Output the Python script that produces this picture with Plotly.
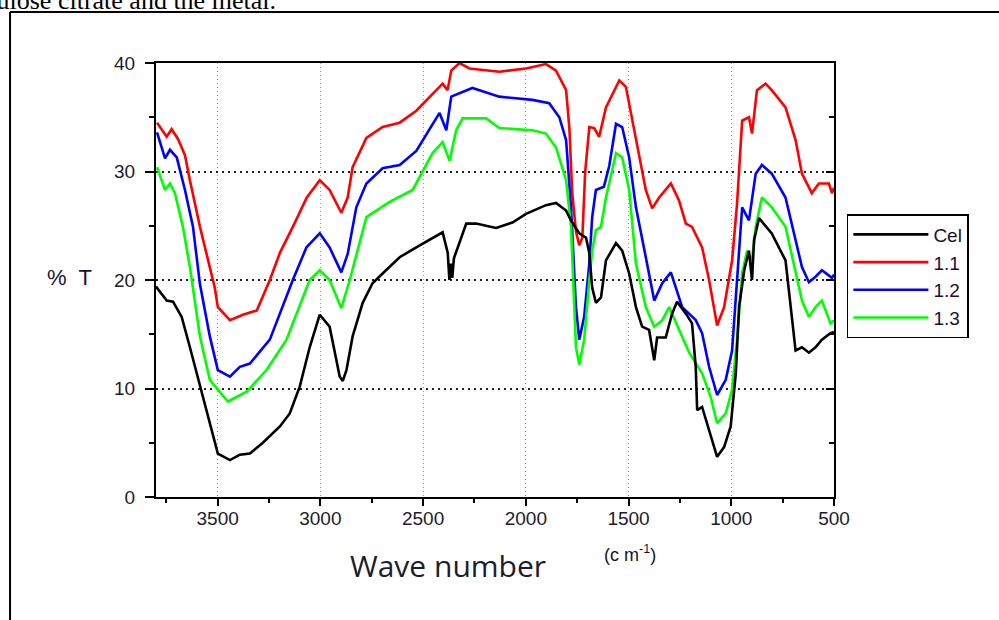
import plotly.graph_objects as go

# ---------------- data ----------------
series_names = ["Cel", "1.1", "1.2", "1.3"]

cel_wn = [3800,3748,3717,3675,3635,3586,3538,3499,3440,3392,3343,3280,3197,3149,3100,3052,3003,2955,2906,2891,2873,2843,2794,2746,2697,2614,2533,2454,2405,2380,2372,2365,2358,2350,2323,2290,2242,2145,2065,1999,1902,1853,1804,1780,1740,1707,1691,1677,1659,1634,1610,1561,1531,1497,1464,1434,1400,1375,1361,1319,1288,1264,1221,1191,1173,1166,1142,1108,1069,1035,1003,978,962,937,914,899,889,865,803,736,687,656,622,590,559,517,500]
cel_t = [19.4,18.1,18.0,16.6,13.8,10.2,6.8,4.0,3.4,3.9,4.0,5.0,6.5,7.7,10.2,13.8,16.8,15.7,11.1,10.7,11.7,14.8,17.9,19.7,20.6,22.1,23.0,23.9,24.4,22.5,20.0,21.5,20.2,22.0,23.4,25.2,25.2,24.8,25.3,26.1,26.9,27.1,26.4,25.5,24.3,23.9,22.5,19.3,17.9,18.4,21.8,23.4,22.7,20.6,17.5,15.7,15.4,12.6,14.7,14.7,16.9,18.0,16.9,16.0,12.0,8.0,8.3,6.2,3.7,4.6,6.5,11.4,17.5,20.9,22.7,20.0,23.7,25.7,24.3,21.8,13.5,13.8,13.3,13.8,14.5,15.1,15.2]

red_wn = [3795,3748,3724,3693,3659,3635,3586,3538,3514,3499,3440,3377,3309,3246,3197,3134,3066,3003,2955,2898,2867,2843,2776,2697,2614,2533,2405,2381,2363,2323,2274,2129,1999,1902,1853,1804,1788,1774,1756,1740,1725,1711,1691,1667,1643,1610,1545,1513,1464,1416,1385,1351,1294,1254,1221,1191,1142,1108,1069,1035,996,972,947,914,899,875,833,803,736,687,656,608,574,525,510,500]
red_t = [34.5,33.2,33.9,33.0,31.5,29.2,24.9,21.2,19.3,17.5,16.3,16.8,17.2,20.0,22.5,24.9,27.6,29.2,28.3,26.2,27.6,30.4,33.1,34.1,34.5,35.6,38.1,37.5,39.3,40.0,39.5,39.2,39.5,39.9,39.3,37.5,34.0,28.0,24.5,23.2,23.9,30.0,34.1,34.0,33.2,35.9,38.4,37.8,32.9,28.3,26.6,27.6,28.9,27.3,25.2,24.9,23.0,20.0,15.8,17.5,21.8,27.0,34.7,35.0,33.5,37.5,38.1,37.5,35.9,32.9,29.8,28.0,28.9,28.9,28.0,28.5]

blue_wn = [3795,3756,3732,3699,3659,3620,3586,3538,3499,3440,3392,3343,3246,3134,3068,3003,2955,2898,2867,2825,2776,2697,2614,2533,2420,2387,2363,2323,2260,2129,1968,1886,1837,1804,1780,1756,1740,1716,1691,1677,1659,1620,1594,1561,1531,1497,1464,1416,1385,1375,1336,1294,1239,1173,1142,1108,1069,1027,996,962,947,914,881,851,803,736,687,656,622,590,559,510,500]
blue_t = [33.6,31.2,32.0,31.3,28.3,24.9,19.6,14.8,11.7,11.1,12.0,12.3,14.5,20.0,23.0,24.3,23.0,20.7,22.4,26.7,28.9,30.3,30.6,31.9,35.4,33.8,36.9,37.2,37.7,36.9,36.6,36.3,35.0,32.9,26.7,17.5,14.5,16.6,21.5,25.8,28.3,28.6,30.5,34.4,34.1,31.3,26.7,22.1,19.3,18.1,19.7,20.7,17.5,16.3,15.1,12.0,9.4,10.8,13.5,23.0,26.7,25.5,29.8,30.6,29.8,27.6,23.7,21.2,19.8,20.3,20.9,20.2,20.5]

green_wn = [3795,3756,3732,3708,3669,3635,3586,3538,3450,3359,3262,3165,3052,3003,2955,2898,2857,2776,2663,2551,2454,2405,2371,2339,2308,2193,2129,1968,1902,1853,1804,1780,1764,1756,1740,1716,1691,1677,1659,1634,1610,1561,1531,1497,1464,1416,1375,1336,1302,1254,1205,1142,1100,1069,1027,996,972,947,923,899,881,851,803,736,687,656,622,590,559,517,500]
green_t = [30.4,28.3,28.9,28.0,24.9,21.2,14.8,10.8,8.8,9.7,11.7,14.5,20.0,20.9,20.0,17.4,20.0,25.8,27.2,28.3,31.7,32.7,31.0,33.8,34.9,34.9,34.0,33.8,33.5,32.2,29.2,24.9,17.5,13.8,12.2,14.5,20.0,22.7,24.6,24.9,27.6,31.7,31.3,28.3,21.5,17.5,15.7,16.3,17.5,15.4,13.3,11.4,9.2,6.8,7.7,9.9,14.5,20.6,22.7,21.8,24.9,27.6,26.7,24.9,20.6,18.1,16.6,17.5,18.1,16.0,16.3]

x_ticks = [3500, 3000, 2500, 2000, 1500, 1000, 500]
y_ticks = [0, 10, 20, 30, 40]
colors = ["#000000", "#ff0000", "#0000ff", "#00ff00"]

# ---------------- figure ----------------
fig = go.Figure()
data = [(cel_wn, cel_t), (red_wn, red_t), (blue_wn, blue_t), (green_wn, green_t)]
for i, (name, (wx, wy), c) in enumerate(zip(series_names, data, colors)):
    fig.add_trace(go.Scatter(
        x=wx, y=wy, name=name, mode="lines",
        line=dict(color=c, width=2.6),
        yaxis="y2" if i == 0 else "y",
        hoverinfo="skip",
    ))

tick_font = dict(family="Arial, Liberation Sans, sans-serif", size=19, color="#1c1c2c")

fig.update_layout(
    width=999, height=620,
    margin=dict(l=156, r=165, t=63, b=123),
    paper_bgcolor="white", plot_bgcolor="white",
    showlegend=True,
    legend=dict(
        x=1.019, y=0.652, xanchor="left", yanchor="top",
        bordercolor="black", borderwidth=1.5, bgcolor="white",
        font=dict(family="Arial, Liberation Sans, sans-serif", size=19, color="#1c1030"),
        itemwidth=75, tracegroupgap=0,
    ),
    xaxis=dict(
        range=[3800, 500], tickvals=x_ticks, ticktext=[str(v) for v in x_ticks],
        showline=True, linecolor="black", linewidth=2, mirror=True,
        ticks="outside", ticklen=7, tickwidth=1.5, tickcolor="black",
        minor=dict(dtick=250, tick0=500, ticks="outside", ticklen=4, tickwidth=1.5, tickcolor="black", showgrid=False),
        showgrid=True, gridcolor="#9a9a9a", gridwidth=1, griddash="1px,3px",
        tickfont=tick_font, ticklabelstandoff=-4,
        zeroline=False,
    ),
    yaxis=dict(
        range=[0, 40], tickvals=y_ticks,
        showline=True, linecolor="black", linewidth=2, mirror=True,
        ticks="outside", ticklen=9, tickwidth=1.5, tickcolor="black",
        minor=dict(dtick=5, tick0=0, ticks="outside", ticklen=5, tickwidth=1.5, tickcolor="black", showgrid=False),
        showgrid=True, gridcolor="#222222", gridwidth=1.5, griddash="2px,4px",
        tickfont=tick_font, ticklabelstandoff=6,
        zeroline=False,
    ),
    yaxis2=dict(
        overlaying="y", side="right", anchor="x", matches="y",
        range=[0, 40], tickvals=y_ticks, showticklabels=False,
        showline=False, showgrid=False, zeroline=False,
        ticks="inside", ticklen=8, tickwidth=1.5, tickcolor="black",
        minor=dict(dtick=5, tick0=0, ticks="inside", ticklen=5, tickwidth=1.5, tickcolor="black", showgrid=False),
    ),
)

# axis titles / labels as annotations
fig.add_annotation(text="%  T", x=-0.128, y=0.505, xref="paper", yref="paper",
                   showarrow=False, xanchor="center", yanchor="middle",
                   font=dict(family="Arial, Liberation Sans, sans-serif", size=22, color="#1c1030"))
fig.add_annotation(text="Wave number", x=0.4307, y=-0.157, xref="paper", yref="paper",
                   showarrow=False, xanchor="center", yanchor="middle",
                   font=dict(family="Open Sans, sans-serif", size=30, color="#1c1c2c"))
fig.add_annotation(text="(c m<sup>-1</sup>)", x=0.6995, y=-0.13, xref="paper", yref="paper",
                   showarrow=False, xanchor="center", yanchor="middle",
                   font=dict(family="Arial, Liberation Sans, sans-serif", size=18, color="#1c1030"))
# cropped caption text at the very top
fig.add_annotation(text="cellulose citrate and the metal.", x=0.18, y=1.1071, xref="paper", yref="paper",
                   showarrow=False, xanchor="right", yanchor="bottom",
                   font=dict(family="Liberation Serif, Times New Roman, serif", size=26, color="black"))

# outer frame (left and top edges visible)
fig.add_shape(type="line", xref="paper", yref="paper", x0=-0.2153, x1=-0.2153, y0=1.1175, y1=-0.4,
              line=dict(color="black", width=2))
fig.add_shape(type="line", xref="paper", yref="paper", x0=-0.2153, x1=1.4, y0=1.1175, y1=1.1175,
              line=dict(color="black", width=2))

fig.write_html("out.html", config={"displayModeBar": False},
               post_script="document.body.style.margin='0px';document.body.style.overflow='hidden';")
